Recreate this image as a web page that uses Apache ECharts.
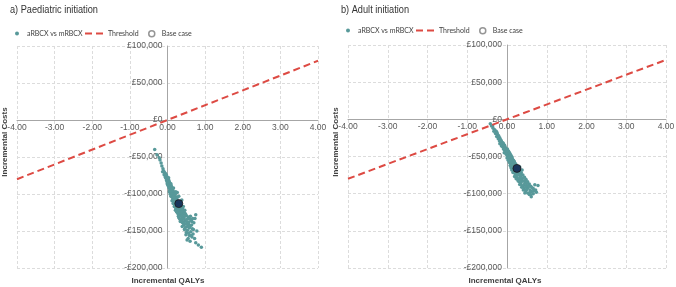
<!DOCTYPE html>
<html>
<head>
<meta charset="utf-8">
<script src="https://cdn.jsdelivr.net/npm/echarts@6/dist/echarts.min.js"></script>
<style>
  * { margin: 0; padding: 0; }
  body { background: #fff; }
  #main { width: 676px; height: 287px; }
</style>
</head>
<body>
<div id="main"></div>
<script>
// a) paediatric initiation - PSA iterations (QALYs, costs)
var paedPsa = [
  [-0.34,-40000],[-0.28,-47000],[-0.22,-51000],[-0.2,-54000],[-0.17,-58000],[-0.15,-62000],[-0.12,-66000],
  [-0.1,-69000],[-0.08,-71000],[-0.13,-70000],[-0.06,-72000],[-0.09,-74000],[-0.04,-75000],[-0.02,-76000],
  [-0.05,-78000],[0.0,-79000],[-0.03,-81000],[0.02,-80000],[0.01,-83000],[0.04,-82000],[-0.01,-85000],
  [0.03,-86000],[0.06,-85000],[0.05,-88000],[0.08,-87000],[0.02,-89000],[0.07,-90000],[0.1,-89000],
  [0.04,-92000],[0.09,-93000],[0.12,-92000],[0.06,-95000],[0.11,-96000],[0.14,-95000],[0.08,-98000],
  [0.13,-99000],[0.16,-97000],[0.1,-101000],[0.18,-100000],[0.15,-102000],[0.2,-103000],[0.12,-104000],
  [0.17,-105000],[0.22,-104000],[0.14,-107000],[0.19,-108000],[0.24,-106000],[0.16,-110000],[0.21,-111000],
  [0.26,-109000],[0.18,-113000],[0.28,-112000],[0.23,-114000],[0.33,-110000],[0.2,-116000],[0.3,-116000],
  [0.25,-118000],[0.35,-115000],[0.22,-120000],[0.32,-119000],[0.27,-121000],[0.37,-118000],[0.4,-120000],
  [0.24,-124000],[0.3,-124000],[0.34,-123000],[0.42,-122000],[0.28,-127000],[0.36,-126000],[0.45,-125000],
  [0.32,-129000],[0.39,-128000],[0.48,-127000],[0.3,-132000],[0.41,-131000],[0.5,-129000],[0.36,-134000],
  [0.44,-133000],[0.55,-131000],[0.34,-137000],[0.47,-136000],[0.58,-133000],[0.4,-139000],[0.52,-138000],
  [0.62,-135000],[0.43,-142000],[0.56,-141000],[0.65,-137000],[0.48,-145000],[0.6,-144000],[0.7,-139000],
  [0.45,-148000],[0.53,-149000],[0.66,-147000],[0.5,-152000],[0.62,-151000],[0.58,-156000],[0.68,-154000],
  [0.55,-160000],[0.65,-158000],[0.6,-164000],[0.75,-166000],[0.82,-169000],[0.9,-172000],[0.72,-160000],
  [0.78,-150000],[0.26,-98000],[0.3,-103000],[0.07,-100000],[0.38,-108000],[0.73,-133000],[0.75,-128000],
  [-0.07,-73000],[-0.03,-74000],[-0.06,-77000],[-0.01,-78000],[0.03,-78000],[-0.02,-82000],[0.05,-84000],
  [0.0,-87000],[0.09,-86000],[0.03,-90000],[0.11,-91000],[0.06,-91500],[0.08,-94000],[0.13,-94000],
  [0.05,-97000],[0.1,-97500],[0.15,-99500],[0.12,-100500],[0.09,-103000],[0.17,-102000],[0.21,-100000],
  [0.14,-104500],[0.19,-106000],[0.12,-109000],[0.23,-108000],[0.17,-108500],[0.2,-112000],[0.15,-113000],
  [0.26,-113000],[0.31,-113500],[0.18,-117000],[0.24,-116000],[0.28,-118500],[0.34,-118000],[0.21,-122000],
  [0.29,-121000],[0.36,-121000],[0.26,-125000],[0.33,-126000],[0.39,-124000],[0.43,-127000],[0.29,-130000],
  [0.37,-130500],[0.46,-130000],[0.33,-134000],[0.4,-134500],[0.52,-134000],[0.38,-137000],[0.44,-138500],
  [0.5,-141000],[0.39,-144000],[0.54,-144000],[0.46,-147000],[0.58,-146000],[0.64,-142000],[0.49,-155000],
  [0.56,-153000],[0.63,-156000],[0.52,-162000],[0.69,-148000],[0.57,-138000],[0.61,-130000],[0.67,-133000],
  [0.46,-122000],[0.42,-117000],[0.36,-112000],[0.27,-104000],[0.22,-97000],[0.16,-92000]
];
var paedBase = [[0.3, -113000]];

// b) adult initiation - PSA iterations
var adultPsa = [
  [-0.42,-6000],[-0.39,-9000],[-0.35,-12000],[-0.31,-14000],[-0.27,-16000],[-0.29,-19000],[-0.24,-20000],
  [-0.26,-23000],[-0.21,-22000],[-0.22,-26000],[-0.18,-25000],[-0.19,-29000],[-0.15,-28000],[-0.16,-32000],
  [-0.12,-31000],[-0.13,-34000],[-0.09,-33000],[-0.11,-37000],[-0.07,-36000],[-0.08,-39000],[-0.04,-38000],
  [-0.06,-42000],[-0.02,-41000],[0.01,-40000],[-0.03,-44000],[0.01,-45000],[0.04,-43000],[0.0,-48000],
  [0.04,-47000],[0.07,-46000],[0.03,-51000],[0.07,-50000],[0.1,-49000],[0.05,-54000],[0.1,-53000],
  [0.13,-52000],[0.08,-57000],[0.12,-56000],[0.16,-55000],[0.1,-60000],[0.15,-59000],[0.19,-58000],
  [0.12,-63000],[0.18,-62000],[0.22,-60000],[0.14,-66000],[0.2,-65000],[0.26,-63000],[0.16,-69000],
  [0.23,-68000],[0.3,-66000],[0.18,-72000],[0.27,-71000],[0.33,-69000],[0.21,-75000],[0.3,-74000],
  [0.36,-72000],[0.24,-78000],[0.33,-77000],[0.4,-75000],[0.27,-81000],[0.37,-80000],[0.44,-78000],
  [0.31,-84000],[0.41,-83000],[0.48,-81000],[0.35,-87000],[0.45,-86000],[0.52,-84000],[0.39,-90000],
  [0.49,-89000],[0.56,-87000],[0.43,-93000],[0.53,-92000],[0.6,-90000],[0.47,-96000],[0.58,-95000],
  [0.66,-93000],[0.52,-99000],[0.62,-97000],[0.72,-95000],[0.56,-101000],[0.66,-100000],[0.61,-104000],
  [0.78,-89000],[0.7,-88000],[0.74,-98000],
  [-0.36,-9000],[-0.33,-16000],[-0.25,-18000],[-0.2,-24000],[-0.17,-27000],[-0.14,-30000],[-0.18,-33000],
  [-0.1,-32000],[-0.14,-36000],[-0.06,-35000],[-0.09,-40000],[-0.05,-39500],[-0.01,-43000],[-0.07,-45000],
  [0.02,-42000],[-0.02,-47000],[0.06,-45000],[0.02,-49500],[0.09,-47500],[0.0,-52000],[0.05,-51500],
  [0.12,-50500],[0.03,-55000],[0.08,-54500],[0.14,-54000],[0.06,-58000],[0.11,-58500],[0.18,-56500],
  [0.08,-62000],[0.14,-61000],[0.21,-62000],[0.1,-65000],[0.17,-64000],[0.24,-66000],[0.12,-68000],
  [0.2,-69000],[0.28,-68000],[0.15,-71500],[0.24,-72500],[0.32,-72000],[0.19,-77000],[0.27,-75000],
  [0.35,-75500],[0.23,-80000],[0.31,-79500],[0.4,-79000],[0.28,-83000],[0.36,-84000],[0.45,-82500],
  [0.32,-87500],[0.42,-88500],[0.5,-86000],[0.37,-91500],[0.47,-91000],[0.55,-90000],[0.45,-99000],
  [0.5,-94500],[0.63,-92000],[0.68,-96000],[0.58,-98000],[0.6,-101500],[0.41,-95000],[0.35,-81000],
  [0.25,-70000],[0.32,-64000],[0.38,-68000]
];
var adultBase = [[0.25, -66000]];

// willingness-to-pay threshold line (£20,000/QALY)
var threshold = [[-4, -80000], [4, 80000]];

var tealC = '#58999a';
var redC = '#dd4a43';
var navyC = '#0b1d4d';

// grid boxes [left, top, right, bottom] in px
var boxes = [[17, 46, 318, 268], [348, 45, 666, 268]];

function money(v) {
  var s = Math.abs(v).toString().replace(/\B(?=(\d{3})+(?!\d))/g, ',');
  return (v < 0 ? '-£' : '£') + s;
}

// axes sit on zero: shift them in from the grid edge
function xAx(gi) {
  var b = boxes[gi];
  var zeroY = b[1] + (b[3] - b[1]) / 3;
  return {
    type: 'value', gridIndex: gi, min: -4, max: 4, interval: 1, position: 'bottom',
    offset: -(b[3] - zeroY),
    axisLine: { onZero: false, lineStyle: { color: '#a6a6a6' } },
    axisTick: { show: false },
    axisLabel: { formatter: function (v) { return v.toFixed(2); }, color: '#595959', fontSize: 8.5, fontFamily: 'Liberation Sans', margin: 3 },
    splitLine: { lineStyle: { color: '#dcdcdc', type: [3, 2] } }
  };
}
function yAx(gi) {
  var b = boxes[gi];
  return {
    type: 'value', gridIndex: gi, min: -200000, max: 100000, interval: 50000, position: 'left',
    offset: -(b[2] - b[0]) / 2,
    axisLine: { onZero: false, lineStyle: { color: '#a6a6a6' } },
    axisTick: { show: false },
    axisLabel: { formatter: money, color: '#595959', fontSize: 8.5, fontFamily: 'Liberation Sans', margin: 5 },
    splitLine: { lineStyle: { color: '#dcdcdc', type: [3, 2] } }
  };
}

function legends(x0, y) {
  var ts = { fontSize: 7, color: '#404040', fontFamily: 'Lato' };
  return [
    { left: x0, top: y, itemWidth: 10, itemHeight: 4, textStyle: ts, data: [{ name: 'aRBCX vs mRBCX', icon: 'circle' }] },
    { left: x0 + 69, top: y, itemWidth: 18, itemHeight: 6, textStyle: ts, data: [{ name: 'Threshold', itemStyle: { opacity: 0 } }] },
    { left: x0 + 133, top: y, itemWidth: 10, itemHeight: 6, textStyle: ts,
      data: [{ name: 'Base case', icon: 'circle', itemStyle: { color: '#fff', borderColor: '#7a7a7a', borderWidth: 1.5 } }] }
  ];
}

function titleText(x, txt) {
  return { type: 'text', x: x, y: 10, scaleX: 0.8,
    style: { text: txt, fontSize: 11.5, fill: '#333', fontFamily: 'Liberation Sans', verticalAlign: 'middle' } };
}
function axisName(x, y, txt, rot) {
  return { type: 'text', x: x, y: y, rotation: rot,
    style: { text: txt, fontSize: 8, fontWeight: 'bold', fill: '#404040', align: 'center', verticalAlign: 'middle' } };
}

var chart = echarts.init(document.getElementById('main'));
chart.setOption({
  animation: false,
  textStyle: { fontFamily: 'Liberation Sans' },
  legend: legends(10, 25).concat(legends(341, 22)),
  grid: boxes.map(function (b) {
    return { left: b[0], top: b[1], right: 676 - b[2], bottom: 287 - b[3], outerBoundsMode: 'none' };
  }),
  xAxis: [xAx(0), xAx(1)],
  yAxis: [yAx(0), yAx(1)],
  graphic: [
    titleText(10, 'a) Paediatric initiation'),
    titleText(341, 'b) Adult initiation'),
    axisName(168, 281, 'Incremental QALYs', 0),
    axisName(505, 281, 'Incremental QALYs', 0),
    axisName(5, 142, 'Incremental Costs', Math.PI / 2),
    axisName(336, 142, 'Incremental Costs', Math.PI / 2)
  ],
  series: [
    { name: 'Threshold', type: 'line', xAxisIndex: 0, yAxisIndex: 0, data: threshold, symbol: 'none', z: 3,
      lineStyle: { color: redC, width: 2, type: [7, 4] }, itemStyle: { color: redC } },
    { name: 'aRBCX vs mRBCX', type: 'scatter', xAxisIndex: 0, yAxisIndex: 0, data: paedPsa, symbolSize: 3.5,
      itemStyle: { color: tealC, opacity: 1 } },
    { name: 'Base case', type: 'scatter', xAxisIndex: 0, yAxisIndex: 0, data: paedBase, symbolSize: 8, z: 5,
      itemStyle: { color: navyC, borderColor: '#1a1a1a', borderWidth: 1 } },
    { name: 'Threshold', type: 'line', xAxisIndex: 1, yAxisIndex: 1, data: threshold, symbol: 'none', z: 3,
      lineStyle: { color: redC, width: 2, type: [7, 4] }, itemStyle: { color: redC } },
    { name: 'aRBCX vs mRBCX', type: 'scatter', xAxisIndex: 1, yAxisIndex: 1, data: adultPsa, symbolSize: 3.5,
      itemStyle: { color: tealC, opacity: 1 } },
    { name: 'Base case', type: 'scatter', xAxisIndex: 1, yAxisIndex: 1, data: adultBase, symbolSize: 8, z: 5,
      itemStyle: { color: navyC, borderColor: '#1a1a1a', borderWidth: 1 } }
  ]
});
</script>
</body>
</html>
